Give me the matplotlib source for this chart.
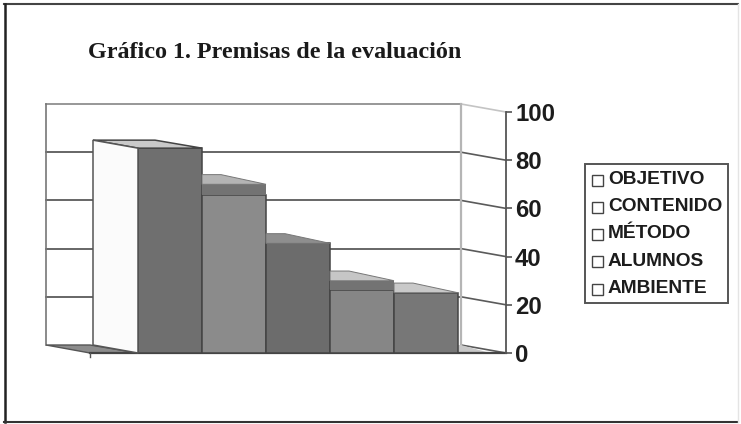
import matplotlib
matplotlib.use("Agg")
import matplotlib.pyplot as plt
from matplotlib.patches import Polygon, Rectangle

W, H = 741, 424
categories = ["OBJETIVO", "CONTENIDO", "MÉTODO", "ALUMNOS", "AMBIENTE"]
front_values = [85, 65.5, 45.5, 26, 25]
upper_values = [85, 70, 45.5, 30, 25]
y_ticks = [0, 20, 40, 60, 80, 100]
bar_colors = ["#6f6f6f", "#8b8b8b", "#6c6c6c", "#868686", "#777777"]
facet_colors = ["#c9c9c9", "#b4b4b4", "#8e8e8e", "#c6c6c6", "#c9c9c9"]
title = "Gráfico 1. Premisas de la evaluación"

fig = plt.figure(figsize=(W / 100, H / 100), dpi=100, facecolor="white")
bg = fig.add_axes([0, 0, 1, 1])
bg.set_xlim(0, W); bg.set_ylim(H, 0); bg.axis("off")
# frame: top, left and bottom are dark, the right edge is nearly invisible
bg.plot([4, 738], [4, 4], color="#444444", lw=1.5)
bg.plot([4.5, 4.5], [4, 422], color="#222222", lw=1.8)
bg.plot([4, 738], [422, 422], color="#333333", lw=1.5)
bg.plot([738, 738], [4, 422], color="#e4e4e4", lw=1)
bg.text(88, 53, title, family="Liberation Serif", weight="bold", fontsize=17.35,
        color="#1a1a1a", va="center", ha="left")

# plot axes: one category = 64 px, 100 units = 241 px
ax = fig.add_axes([138 / W, 1 - 353 / H, 368 / W, 241 / H])
ax.set_xlim(0, 5.75); ax.set_ylim(0, 100)
ax.patch.set_alpha(0)
for s in ["top", "left", "bottom"]:
    ax.spines[s].set_visible(False)
ax.spines["right"].set_color("#555555"); ax.spines["right"].set_linewidth(1.3)
ax.yaxis.tick_right()
ax.set_yticks(y_ticks)
ax.tick_params(axis="y", length=4, width=1.2, color="#555555", pad=2.5)
ax.set_xticks([])
for t in ax.get_yticklabels():
    t.set_family("Liberation Sans"); t.set_weight("bold"); t.set_fontsize(17.2); t.set_color("#1c1c1c")

dx, dy = 45 / 64, 8 / 2.41          # depth offset in data units
wall_l = (46 - 138) / 64
wall_r = (461 - 138) / 64
front_r = 5.75
floor_l = -48 / 64
kw = dict(clip_on=False)
# walls and gridlines
for v in y_ticks:
    c = "#8f8f8f" if v == 100 else "#5a5a5a"
    if v > 0:
        ax.plot([wall_l, wall_r], [v + dy, v + dy], color=c, lw=1.3, zorder=1, **kw)
    ax.plot([wall_r, front_r], [v + dy, v], color="#c4c4c4" if v == 100 else "#5a5a5a", lw=1.2, zorder=1, **kw)
ax.plot([wall_l, wall_l], [dy, 100 + dy], color="#777777", lw=1.2, zorder=1, **kw)
ax.plot([wall_r, wall_r], [dy, 100 + dy], color="#b5b5b5", lw=1.6, zorder=1, **kw)
# floor
ax.add_patch(Polygon([(wall_l, dy), (floor_l, 0), (0, 0), (floor_l, dy)], fc="#8c8c8c", ec="#555555", lw=1, zorder=1.5, **kw))
ax.add_patch(Polygon([(5, 0), (5.0, dy), (wall_r, dy), (5.5, 0)], fc="#c8c8c8", ec="none", zorder=1.5, **kw))
ax.plot([floor_l, front_r], [0, 0], color="#444444", lw=1.6, zorder=2, **kw)
ax.plot([floor_l, floor_l], [0, -1.6], color="#555555", lw=1, **kw)

# bars
ax.bar(range(5), front_values, width=1, align="edge", color=bar_colors, edgecolor="#444444", linewidth=1.1, zorder=3)
for i, (v, u) in enumerate(zip(front_values, upper_values)):
    if u > v:
        ax.add_patch(Rectangle((i, v), 1, u - v, fc="#737373", ec="none", zorder=3, **kw))
    if i == 0:
        pts = [(i, u), (i + 1, u), (i + 1 - 47 / 64, u + dy), (i - dx, u + dy)]
        ax.add_patch(Polygon(pts, fc=facet_colors[i], ec="#444444", lw=1.1, zorder=3.2, **kw))
        side = [(i, 0), (i, u), (i - dx, u + dy), (i - dx, dy)]
        ax.add_patch(Polygon(side, fc="#fbfbfb", ec="#555555", lw=1.1, zorder=3.2, **kw))
    else:
        h = 1.15 * dy + 0.2
        pts = [(i, u), (i + 1, u), (i + 19 / 64, u + h), (i, u + h)]
        ax.add_patch(Polygon(pts, fc=facet_colors[i], ec="#777777", lw=0.7, zorder=3.2, **kw))

# legend
lg = dict(family="Liberation Sans", weight="bold", fontsize=13.8, color="#1c1c1c", va="center")
bg.add_patch(Rectangle((585, 164), 142.5, 139, fc="white", ec="#555555", lw=1.4))
for k, name in enumerate(categories):
    y = 179.5 + k * 27.25
    bg.add_patch(Rectangle((592, y - 5), 11, 11, fc="white", ec="#444444", lw=1))
    bg.text(608, y, name, **lg)

fig.savefig("out.png", dpi=100)
